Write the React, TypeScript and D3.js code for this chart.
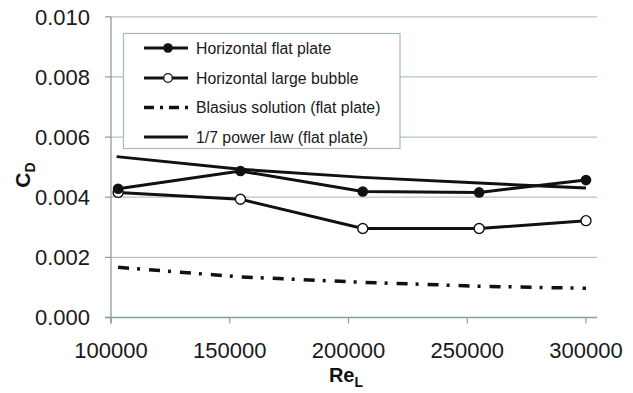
import React from "react";
import * as d3 from "d3";

const reynolds = [103000, 154500, 206000, 255000, 300000];
const flatPlate = [0.00428, 0.00487, 0.00419, 0.00416, 0.00457];
const largeBubble = [0.00416, 0.00393, 0.00296, 0.00296, 0.00322];
const blasius = [0.00167, 0.00135, 0.00117, 0.00104, 0.00097];
const powerLaw = [0.00535, 0.00493, 0.00466, 0.00447, 0.00431];

const xTicks = [100000, 150000, 200000, 250000, 300000];
const yTicks = [0, 0.002, 0.004, 0.006, 0.008, 0.01];

const legendLabels = [
  "Horizontal flat plate",
  "Horizontal large bubble",
  "Blasius solution (flat plate)",
  "1/7 power law (flat plate)",
];

const W = 633;
const H = 393;
const FONT = "'Liberation Sans', Arial, Helvetica, sans-serif";

export default function App() {
  const x = d3.scaleLinear().domain([100000, 300000]).range([111, 586]);
  const y = d3.scaleLinear().domain([0, 0.01]).range([317.5, 16.8]);
  const left = 111;
  const right = 597;
  const bottom = y(0);

  const line = (vals: number[]) =>
    d3
      .line<number>()
      .x((_, i) => x(reynolds[i]))
      .y((v) => y(v))(vals) || "";

  const powerLine =
    d3
      .line<number>()
      .x((_, i) => (i === 0 ? x(reynolds[i]) - 1.5 : x(reynolds[i])))
      .y((v) => y(v))(powerLaw) || "";

  const gridColor = "#b3c3c3";
  const axisColor = "#8d9d9d";
  const dashPattern = "11,8,3,9";

  const legendRows = [48, 78, 107.5, 137];

  return (
    <svg
      width={W}
      height={H}
      style={{ position: "absolute", left: 0, top: 0, background: "#fff" }}
      fontFamily={FONT}
    >
      <rect x={0} y={0} width={W} height={H} fill="#fff" />
      {yTicks.slice(1).map((t) => (
        <line key={t} x1={left} x2={right} y1={y(t)} y2={y(t)} stroke={gridColor} strokeWidth={1.2} />
      ))}
      <line x1={left} x2={left} y1={y(0.01)} y2={bottom + 6} stroke={axisColor} strokeWidth={1.3} />
      <line x1={left - 6} x2={right} y1={bottom} y2={bottom} stroke={axisColor} strokeWidth={1.3} />
      {yTicks.map((t) => (
        <line key={"yt" + t} x1={left - 6} x2={left} y1={y(t)} y2={y(t)} stroke={axisColor} strokeWidth={1.2} />
      ))}
      {xTicks.map((t) => (
        <line key={"xt" + t} x1={x(t)} x2={x(t)} y1={bottom} y2={bottom + 6} stroke={axisColor} strokeWidth={1.2} />
      ))}
      {yTicks.map((t) => (
        <text
          key={"yl" + t}
          x={90}
          y={y(t)}
          dy="0.36em"
          textAnchor="end"
          fontSize={22}
          fill="#1a1a1a"
        >
          {d3.format(".3f")(t)}
        </text>
      ))}
      {xTicks.map((t) => (
        <text key={"xl" + t} x={x(t)} y={357.5} textAnchor="middle" fontSize={22} fill="#1a1a1a">
          {String(t)}
        </text>
      ))}
      <text x={346} y={382} textAnchor="middle" fontSize={20} fontWeight="bold" fill="#111">
        Re
        <tspan fontSize={14} dy={5}>
          L
        </tspan>
      </text>
      <text
        transform="translate(30,175) rotate(-90)"
        textAnchor="middle"
        fontSize={21}
        fontWeight="bold"
        fill="#111"
      >
        C
        <tspan fontSize={14} dy={5}>
          D
        </tspan>
      </text>
      <path d={line(blasius)} fill="none" stroke="#111" strokeWidth={3.5} strokeDasharray={dashPattern} />
      <path d={powerLine} fill="none" stroke="#111" strokeWidth={3} />
      <path d={line(largeBubble)} fill="none" stroke="#111" strokeWidth={3} />
      <path d={line(flatPlate)} fill="none" stroke="#111" strokeWidth={3} />
      {largeBubble.map((v, i) => (
        <circle key={"b" + i} cx={x(reynolds[i])} cy={y(v)} r={5} fill="#fff" stroke="#111" strokeWidth={1.4} />
      ))}
      {flatPlate.map((v, i) => (
        <circle key={"f" + i} cx={x(reynolds[i])} cy={y(v)} r={5.3} fill="#111" />
      ))}
      <rect x={123.5} y={33.5} width={276.5} height={115} fill="#fff" stroke="#a9b9b9" strokeWidth={1.2} />
      {legendLabels.map((lab, i) => {
        const ly = legendRows[i];
        return (
          <g key={lab}>
            <line
              x1={144}
              x2={188}
              y1={ly}
              y2={ly}
              stroke="#111"
              strokeWidth={i === 2 ? 3.5 : 3}
              strokeDasharray={i === 2 ? "10,6,3,6" : undefined}
            />
            {i === 0 && <circle cx={168} cy={ly} r={4.8} fill="#111" />}
            {i === 1 && <circle cx={168} cy={ly} r={4.3} fill="#fff" stroke="#111" strokeWidth={1.3} />}
            <text x={196} y={ly} dy="0.35em" fontSize={15.8} fill="#1a1a1a">
              {lab}
            </text>
          </g>
        );
      })}
    </svg>
  );
}
